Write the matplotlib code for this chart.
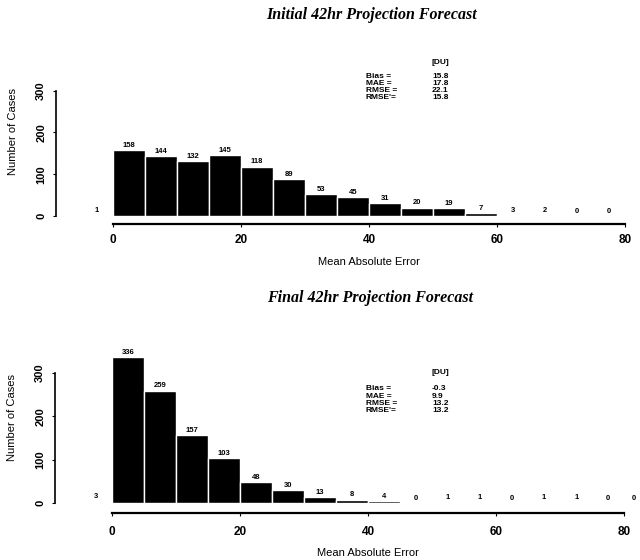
import numpy as np
import matplotlib.pyplot as plt

# histogram bins (left edges) and counts
edges_init = [-5, 0, 5, 10, 15, 20, 25, 30, 35, 40, 45, 50, 55, 60, 65, 70, 75]
counts_init = [1, 158, 144, 132, 145, 118, 89, 53, 45, 31, 20, 19, 7, 3, 2, 0, 0]

edges_final = [-5, 0, 5, 10, 15, 20, 25, 30, 35, 40, 45, 50, 55, 60, 65, 70, 75, 80]
counts_final = [3, 336, 259, 157, 103, 48, 30, 13, 8, 4, 0, 1, 1, 0, 1, 1, 0, 0]

stat_names = ["Bias =", "MAE =", "RMSE =", "RMSE'="]
stats_init = ["15.8", "17.8", "22.1", "15.8"]
stats_final = ["-0.3", "9.9", "13.2", "13.2"]

titles = ["Initial 42hr Projection Forecast", "Final 42hr Projection Forecast"]

W, H = 640, 560
SANS = "Liberation Sans"


def fx(px):
    return px / W


def fy(py):
    return 1 - py / H


def draw_panel(ax, edges, counts, ylim, tick_pad, xlabel_y, ylabel_y):
    ax.bar(edges, counts, width=5, align="edge", color="black",
           edgecolor="white", linewidth=1.0)
    for e, c in zip(edges, counts):
        # the last bin sits at the figure edge: keep its label inside
        if e >= 80:
            ax.text(81.9, c + 3, str(c), ha="right", va="bottom",
                    fontsize=5.5, fontweight="bold", family=SANS, clip_on=False)
        else:
            ax.text(e + 2.5, c + 3, str(c), ha="center", va="bottom",
                    fontsize=5.5, fontweight="bold", family=SANS, clip_on=False)
    ax.set_xlim(-8.9, 82)
    ax.set_ylim(*ylim)
    for s in ["top", "right"]:
        ax.spines[s].set_visible(False)
    ax.spines["left"].set_bounds(0, 300)
    ax.spines["bottom"].set_bounds(0, 80)
    ax.spines["left"].set_linewidth(1.2)
    ax.spines["bottom"].set_linewidth(1.6)
    ax.set_xticks([0, 20, 40, 60, 80])
    ax.set_yticks([0, 100, 200, 300])
    ax.tick_params(axis="x", direction="out", length=2, pad=tick_pad,
                   labelsize=8.5)
    ax.tick_params(axis="y", direction="out", length=2.5, pad=4.5,
                   labelsize=8, labelrotation=90)
    for lab in ax.get_xticklabels() + ax.get_yticklabels():
        lab.set_fontweight("bold")
        lab.set_family(SANS)
    for lab in ax.get_yticklabels():
        lab.set_va("center")
    ax.set_xlabel("Mean Absolute Error", fontsize=8, family=SANS)
    ax.xaxis.set_label_coords(48.9 / 90.9, xlabel_y)
    ax.set_ylabel("Number of Cases", fontsize=8, family=SANS)
    ax.yaxis.set_label_coords(-0.065, ylabel_y)


fig = plt.figure(figsize=(6.4, 5.6), dpi=100)

ax1 = fig.add_axes([fx(56), fy(224), fx(582), 154 / H])
draw_panel(ax1, edges_init, counts_init, (-19, 349), 5.5, -0.215, 0.6)

ax2 = fig.add_axes([fx(55), fy(513), fx(582), 173 / H])
draw_panel(ax2, edges_final, counts_final, (-23, 376), 7.5, -0.2, 0.55)

# titles
fig.text(fx(372), fy(15), titles[0], ha="center", va="center",
         family="Liberation Serif", style="italic", fontweight="bold", fontsize=11.5)
fig.text(fx(370), fy(298), titles[1], ha="center", va="center",
         family="Liberation Serif", style="italic", fontweight="bold", fontsize=11.5)

# statistics blocks
for du_y, row_y, vals in [(62, 76, stats_init), (372, 389, stats_final)]:
    fig.text(fx(432), fy(du_y), "[DU]", ha="left", va="center",
             fontsize=6, fontweight="bold", family=SANS)
    for i, (n, v) in enumerate(zip(stat_names, vals)):
        fig.text(fx(366), fy(row_y + 7.3 * i), n, ha="left", va="center",
                 fontsize=6, fontweight="bold", family=SANS)
        fig.text(fx(432), fy(row_y + 7.3 * i), v, ha="left", va="center",
                 fontsize=6, fontweight="bold", family=SANS)

fig.savefig("out.png", dpi=100)
